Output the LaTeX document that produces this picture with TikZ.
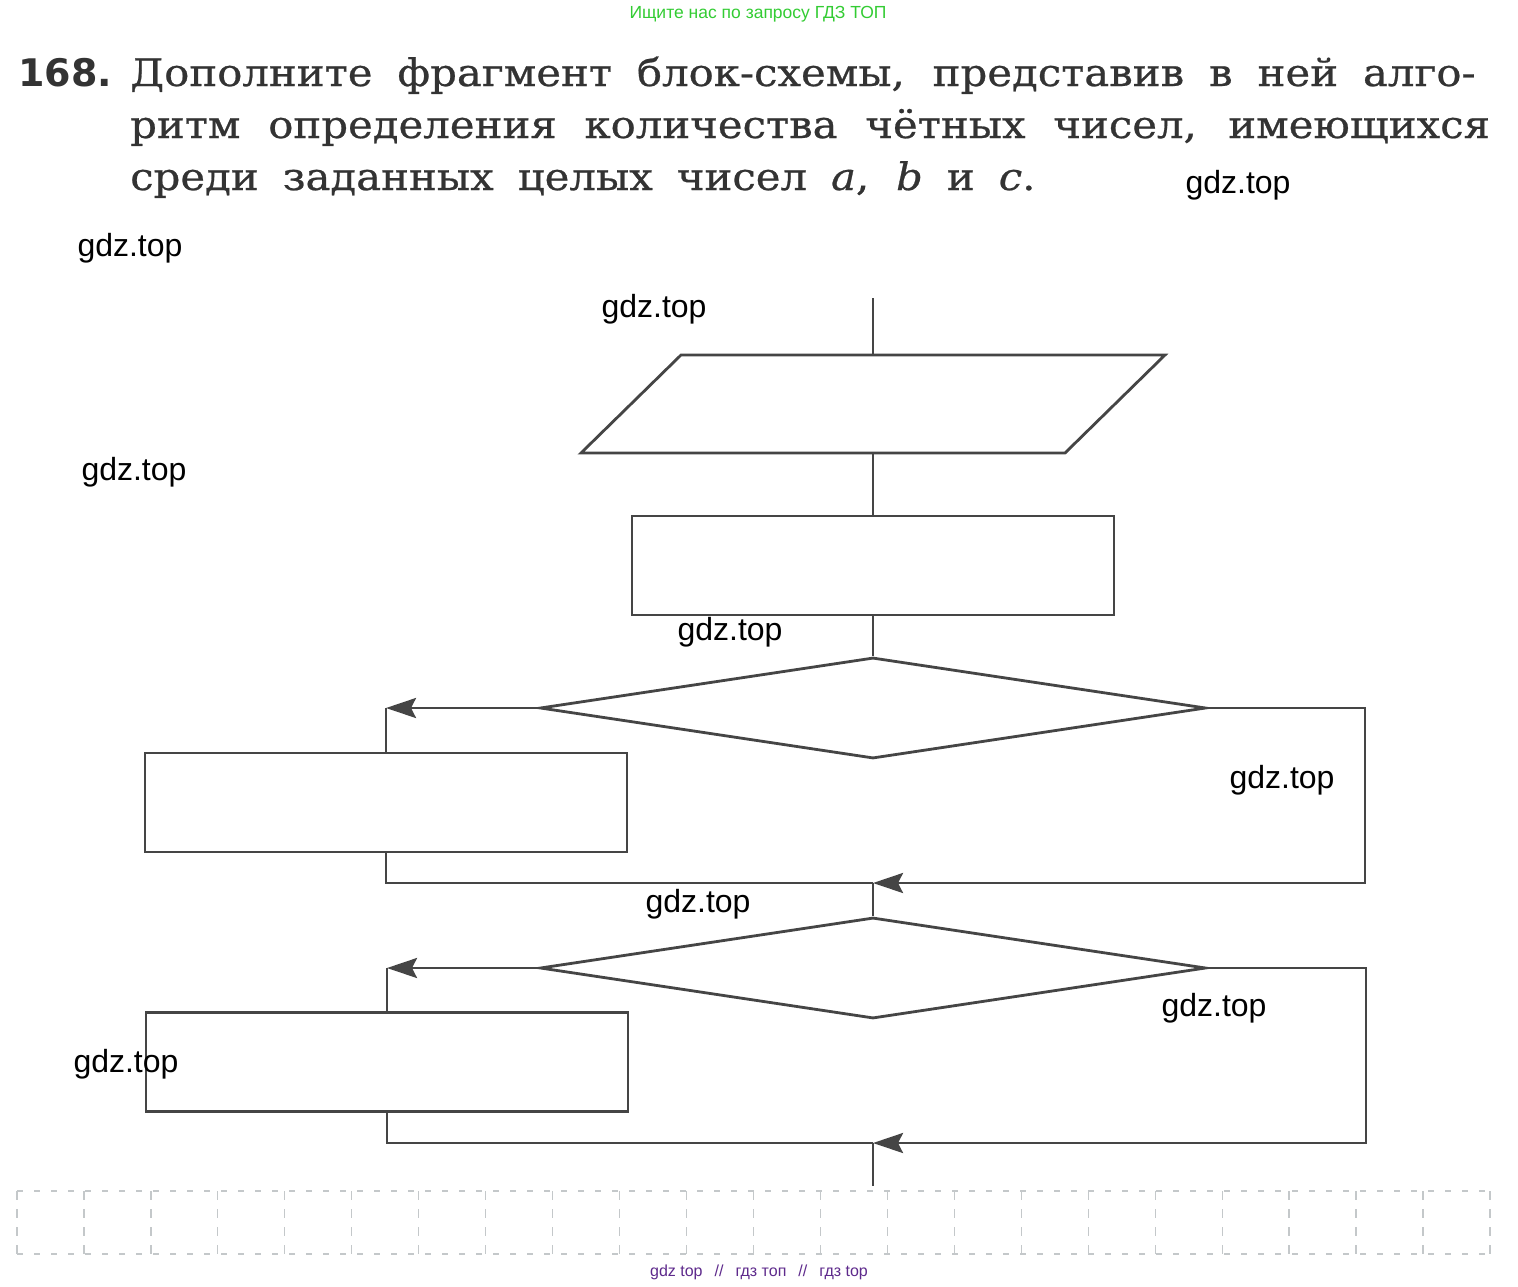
\documentclass[tikz,border=0pt]{standalone}
\usepackage{fontspec}
\setmainfont{DejaVu Serif}
\newfontfamily\ttlfont[FakeBold=0.6]{DejaVu Serif}
\newfontfamily\numfont{DejaVu Sans}
\newfontfamily\wmfont{Liberation Sans}
\usetikzlibrary{arrows.meta,shapes.geometric,calc}
\definecolor{linegray}{HTML}{454545}
\definecolor{textgray}{HTML}{333333}
\definecolor{gridgray}{HTML}{C4C8CA}
\definecolor{hdrgreen}{HTML}{33CC33}
\definecolor{ftrpurple}{HTML}{5E2A8C}
\newcommand\tline[2]{\scalebox{1.1}[1]{\makebox[#1][s]{#2}}}
\begin{document}
\begin{tikzpicture}[x=1pt,y=-1pt,
  flow/.style={draw=linegray,line width=2.8pt},
  box/.style={flow,rectangle,minimum width=482pt,minimum height=99pt,inner sep=0pt},
  dec/.style={flow,diamond,minimum width=666pt,minimum height=101pt,inner sep=0pt},
  iobox/.style={rectangle,minimum width=484pt,minimum height=98pt,inner sep=0pt,outer sep=0pt},
  arr/.style={flow,-{Stealth[length=30pt,width=20pt,inset=5pt]}},
  wm/.style={font=\wmfont\fontsize{32}{38}\selectfont,text=black,inner sep=0pt},
  title/.style={font=\ttlfont\fontsize{38}{44}\selectfont,text=textgray,inner sep=0pt,anchor=base west},
  gridh/.style={draw=gridgray,line width=1.2pt,dash pattern=on 6pt off 11pt},
  gridv/.style={draw=gridgray,line width=1.2pt,dash pattern=on 9pt off 9pt}]
\useasboundingbox (0,0) rectangle (1518,1286);
\fill[white] (0,0) rectangle (1518,1286);

% header and footer
\node[inner sep=0pt,text=hdrgreen,font=\wmfont\fontsize{17.5}{20}\selectfont,anchor=base] (hdr) at (758,18) {Ищите нас по запросу ГДЗ ТОП};
\node[inner sep=0pt,text=ftrpurple,font=\wmfont\fontsize{16}{20}\selectfont,anchor=base] (ftr) at (759,1276) {gdz top\hspace{12pt}//\hspace{12pt}гдз топ\hspace{12pt}//\hspace{12pt}гдз top};

% task text
\node[title,font=\numfont\bfseries\fontsize{38}{44}\selectfont] (num) at (18,86) {168.};
\node[title] (l1) at (130,86) {\tline{1223pt}{Дополните фрагмент блок-схемы, представив в ней алго-}};
\node[title] (l2) at (130,138) {\tline{1236pt}{ритм определения количества чётных чисел, имеющихся}};
\node[title] (l3) at (130,190) {\tline{823pt}{среди заданных целых чисел \textit{a}, \textit{b} и \textit{c}.}};

% flowchart
\coordinate (start) at (873,298);
\node[iobox] (inp) at (873,404) {};
\draw[flow] ($(inp.south west)+(-50,0)$) -- ($(inp.north west)+(50,0)$) -- ($(inp.north east)+(50,0)$) -- ($(inp.south east)+(-50,0)$) -- cycle;
\node[box] (proc) at (873,565.5) {};
\node[dec] (c1) at (873,708) {};
\node[box] (b1) at (386,802.5) {};
\coordinate (j1) at (873,883);
\node[dec] (c2) at (873,968) {};
\node[box] (b2) at (387,1062) {};
\coordinate (j2) at (873,1143);
\coordinate (fin) at (873,1186);
\coordinate (r1) at (1365,708);
\coordinate (r2) at (1366,968);

\draw[flow] (start) -- (inp.north);
\draw[flow] (inp.south) -- (proc.north);
\draw[flow] (proc.south) -- (c1.north);
\draw[arr] (c1.west) -- (c1.west -| b1.north);
\draw[flow] (c1.west -| b1.north) -- (b1.north);
\draw[flow] (b1.south) -- (b1.south |- j1) -- (j1);
\draw[arr] (c1.east) -- (r1) |- (j1);
\draw[flow] (j1) -- (c2.north);
\draw[arr] (c2.west) -- (c2.west -| b2.north);
\draw[flow] (c2.west -| b2.north) -- (b2.north);
\draw[flow] (b2.south) -- (b2.south |- j2) -- (j2);
\draw[arr] (c2.east) -- (r2) |- (j2);
\draw[flow] (j2) -- (fin);

% dotted grid
\draw[gridh] (17,1191) -- (1490,1191);
\draw[gridh] (17,1254) -- (1490,1254);
\foreach \i in {0,...,22} \draw[gridv] ({17+66.95*\i},1191) -- ({17+66.95*\i},1254);

% watermarks
\node[wm] (w1) at (1238,185) {gdz.top};
\node[wm] (w2) at (130,248) {gdz.top};
\node[wm] (w3) at (654,309) {gdz.top};
\node[wm] (w4) at (134,472) {gdz.top};
\node[wm] (w5) at (730,632) {gdz.top};
\node[wm] (w6) at (1282,780) {gdz.top};
\node[wm] (w7) at (698,904) {gdz.top};
\node[wm] (w8) at (1214,1008) {gdz.top};
\node[wm] (w9) at (126,1064) {gdz.top};
\end{tikzpicture}
\end{document}
